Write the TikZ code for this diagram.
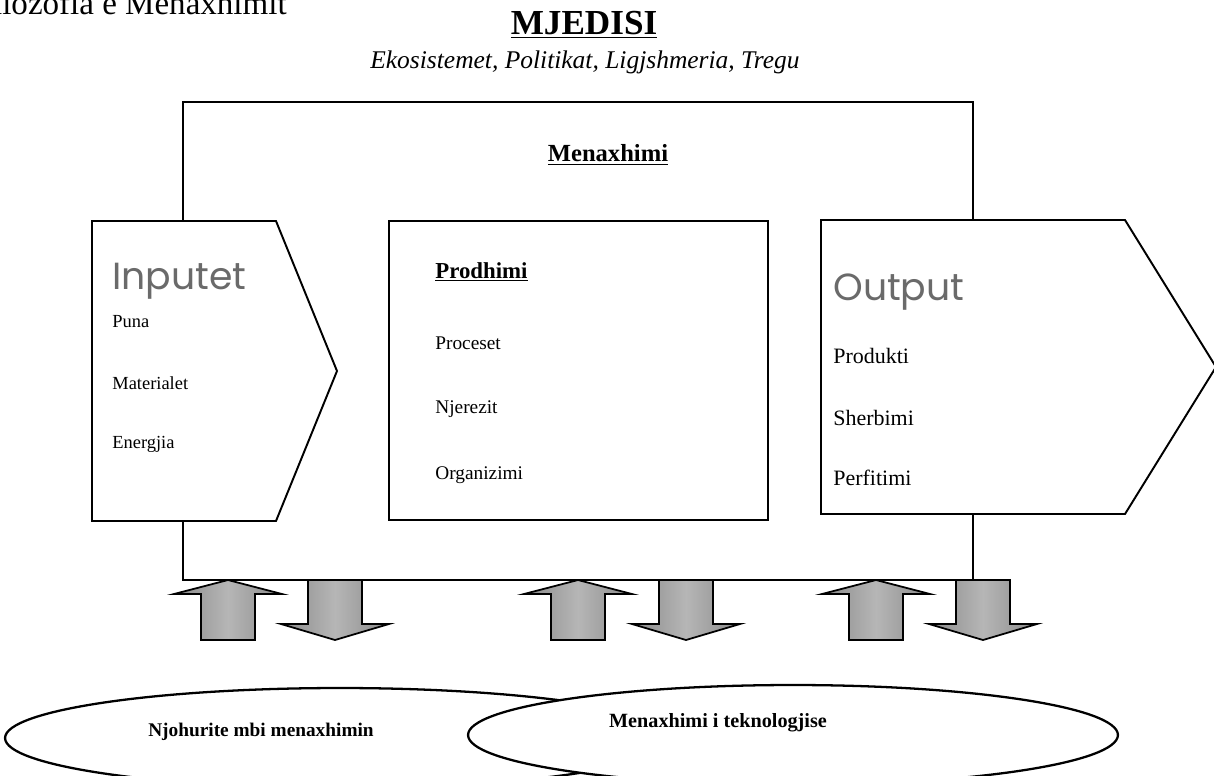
\documentclass[tikz,border=0pt]{standalone}
\usepackage{fontspec}
\setmainfont{Liberation Serif}
\newfontfamily\gothicfont{Poppins}
\usetikzlibrary{positioning, shapes.geometric}

\definecolor{labelgray}{HTML}{6A6A6A}
\definecolor{arrowedge}{HTML}{8A8A8A}
\definecolor{arrowmid}{HTML}{B6B6B6}

\begin{document}
\begin{tikzpicture}[x=0.02cm, y=-0.02cm,
    frame/.style={draw, line width=0.85pt, inner sep=0pt},
    stagebox/.style={draw, fill=white, line width=1.1pt},
    centrebox/.style={draw, fill=white, line width=1.4pt, inner sep=0pt},
    blockarrow/.style={draw, line width=1pt, left color=arrowedge, right color=arrowedge, middle color=arrowmid},
    knowledge/.style={draw, ellipse, fill=white, line width=1.3pt, inner sep=0pt, minimum height=2cm},
    heading/.style={font=\gothicfont\fontsize{21.5}{23}\selectfont, text=labelgray, anchor=west, inner sep=0pt},
    item/.style={anchor=west, inner sep=0pt},
    ]

\useasboundingbox (0,0) rectangle (1214,775);

% ------ titles ------- %
\node[anchor=base east, inner sep=0pt, font=\fontsize{18.8}{20}\selectfont] (filozofia) at (287,14) {Filozofia e Menaxhimit};
\node[inner sep=0pt, font=\fontsize{20}{22}\selectfont\bfseries] (mjedisi) at (584,25) {\underline{MJEDISI}};
\node[inner sep=0pt, font=\fontsize{14.5}{16}\selectfont\itshape] (faktoret) at (585,62) {Ekosistemet, Politikat, Ligjshmeria, Tregu};

% ------ Menaxhimi frame ------- %
\node[frame, minimum width=15.8cm, minimum height=9.56cm] (menaxhimi_box) at (578,341) {};
\node[inner sep=0pt, font=\fontsize{14}{16}\selectfont\bfseries] (menaxhimi) at (608,155) {\underline{Menaxhimi}};

% ------ inputs ------- %
\draw[stagebox] (92,221) -- (276,221) -- (337,371) -- (276,521) -- (92,521) -- cycle;
\node[heading] (inputet) at (112,281) {Inputet};
\node[item, font=\fontsize{10.5}{12}\selectfont] (puna) at (112,322) {Puna};
\node[item, font=\fontsize{10.5}{12}\selectfont] (materialet) at (112,383) {Materialet};
\node[item, font=\fontsize{10.5}{12}\selectfont] (energjia) at (112,444) {Energjia};

% ------ production ------- %
\node[centrebox, minimum width=7.58cm, minimum height=5.98cm] (prodhimi_box) at (578.5,370.5) {};
\node[item, font=\fontsize{13}{15}\selectfont\bfseries] (prodhimi) at (435,272) {\underline{Prodhimi}};
\node[item, font=\fontsize{11}{13}\selectfont] (proceset) at (435,343) {Proceset};
\node[item, font=\fontsize{11}{13}\selectfont] (njerezit) at (435,409) {Njerezit};
\node[item, font=\fontsize{11}{13}\selectfont] (organizimi) at (435,475) {Organizimi};

% ------ outputs ------- %
\draw[stagebox] (821,220) -- (1125,220) -- (1216,367) -- (1125,514) -- (821,514) -- cycle;
\node[heading] (output) at (833,292) {Output};
\node[item, font=\fontsize{12.5}{14}\selectfont] (produkti) at (833,356) {Produkti};
\node[item, font=\fontsize{12.5}{14}\selectfont] (sherbimi) at (833,418) {Sherbimi};
\node[item, font=\fontsize{12.5}{14}\selectfont] (perfitimi) at (833,478) {Perfitimi};

% ------ exchange arrows ------- %
\foreach \ux/\dx in {228/335, 578/686, 876/983}{
  \draw[blockarrow] (\ux-27,640) -- (\ux-27,594) -- (\ux-54,594) -- (\ux,580) -- (\ux+54,594) -- (\ux+27,594) -- (\ux+27,640) -- cycle;
  \draw[blockarrow] (\dx-27,580) -- (\dx+27,580) -- (\dx+27,624) -- (\dx+54,624) -- (\dx,640) -- (\dx-54,624) -- (\dx-27,624) -- cycle;
}

% ------ knowledge areas ------- %
\node[knowledge, minimum width=13.4cm] (njohurite_ell) at (340,738) {};
\node[knowledge, minimum width=13cm] (teknologji_ell) at (793,735) {};
\node[inner sep=0pt, font=\fontsize{11}{13}\selectfont\bfseries] (njohurite) at (261,732) {Njohurite mbi menaxhimin};
\node[inner sep=0pt, font=\fontsize{11.5}{13}\selectfont\bfseries] (teknologji) at (718,723) {Menaxhimi i teknologjise};

\end{tikzpicture}
\end{document}
